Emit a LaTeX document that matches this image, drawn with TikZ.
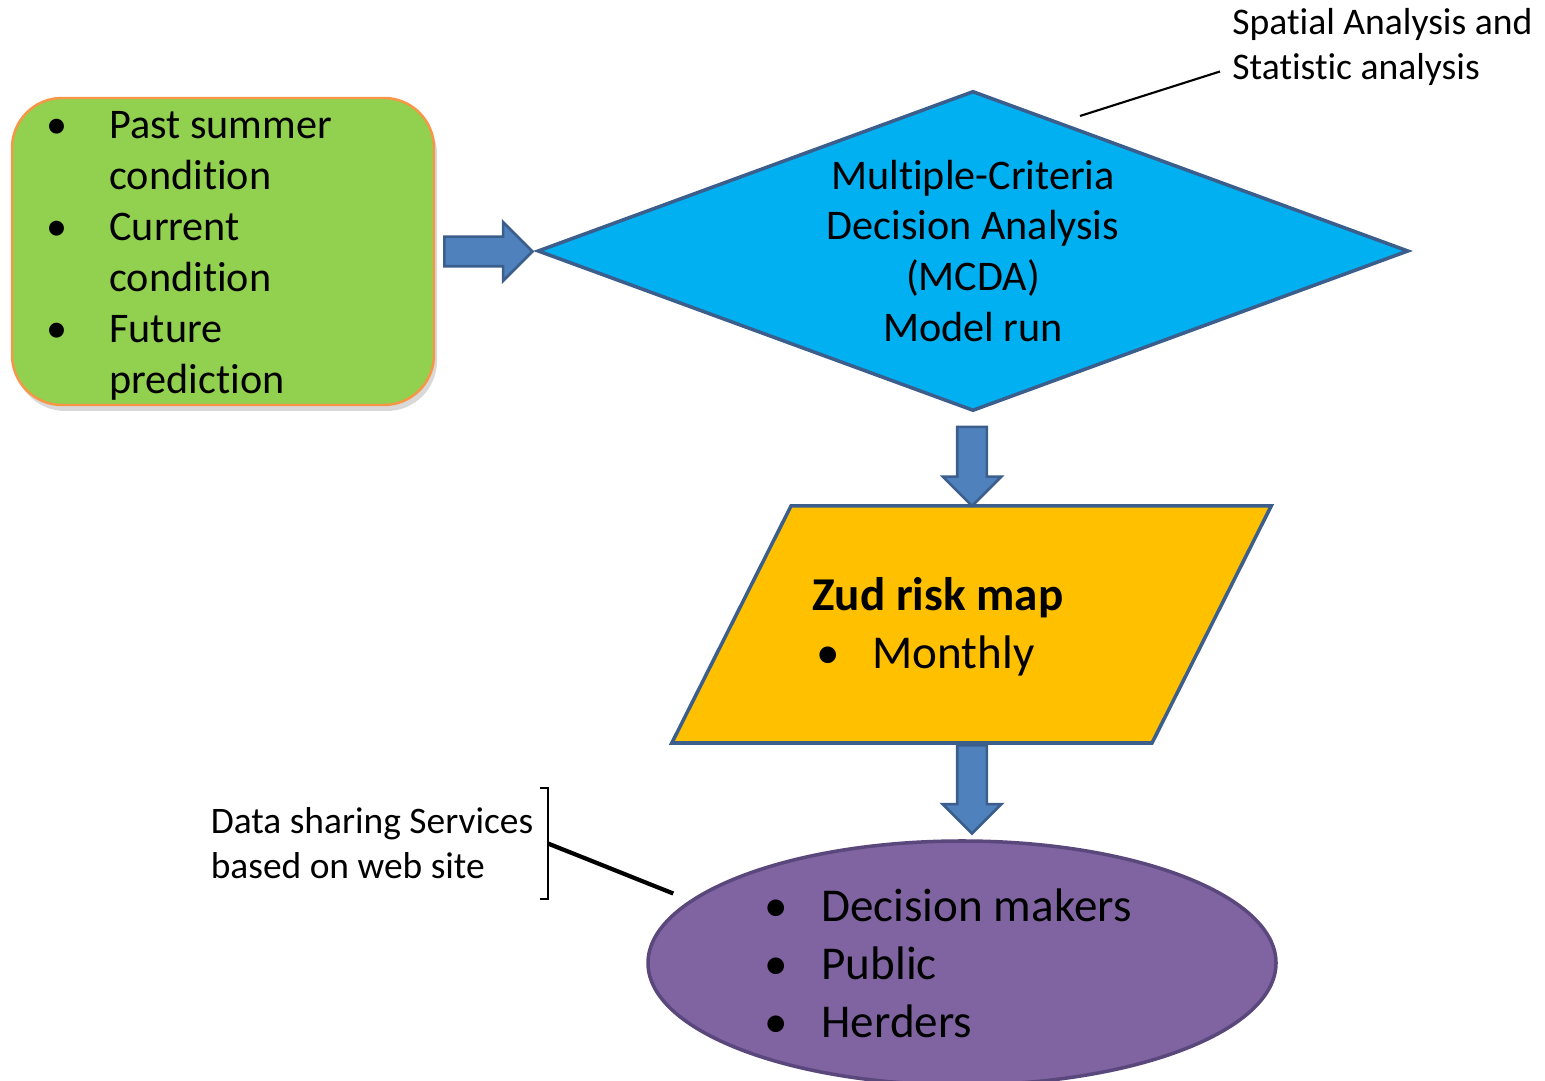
\documentclass[tikz,border=0pt]{standalone}
\usepackage{fontspec}
\setmainfont{Carlito}[Ligatures=NoCommon]
\usetikzlibrary{shapes.geometric,shapes.arrows,shadows}
\definecolor{leafgreen}{HTML}{92D050}
\definecolor{edgeorange}{HTML}{F79646}
\definecolor{skyblue}{HTML}{00B0F0}
\definecolor{arrowblue}{HTML}{4F81BD}
\definecolor{edgeblue}{HTML}{3B5E8C}
\definecolor{ambergold}{HTML}{FFC000}
\definecolor{plum}{HTML}{8064A2}
\definecolor{plumedge}{HTML}{5A477C}
\newcommand{\itm}[1][0.6cm]{\makebox[#1][l]{\textbullet}}
\tikzset{
  inputbox/.style={draw=edgeorange,fill=leafgreen,line width=0.7pt,rounded corners=0.5cm,
    minimum width=4.22cm,minimum height=3.07cm,
    drop shadow={opacity=0.3,shadow xshift=0.03cm,shadow yshift=-0.06cm}},
  modelbox/.style={diamond,aspect=2.72,draw=edgeblue,fill=skyblue,line width=1pt,inner sep=0pt,
    minimum width=8.71cm,minimum height=3.2cm,align=center,font=\fontsize{12}{14.5}\selectfont},
  mapbox/.style={trapezium,trapezium left angle=63.3,trapezium right angle=116.7,
    draw=edgeblue,fill=ambergold,line width=1pt,inner sep=0pt,
    text width=3.61cm,text height=2.37cm,text depth=0pt},
  userbox/.style={ellipse,draw=plumedge,fill=plum,line width=1pt,minimum width=6.28cm,minimum height=2.44cm},
  smalltext/.style={align=flush left,font=\fontsize{12}{14.5}\selectfont},
  bigtext/.style={align=flush left,font=\fontsize{13.4}{16.5}\selectfont},
  blockarrow/.style={single arrow,draw=edgeblue,fill=arrowblue,line width=0.75pt,inner sep=0.135cm,
    single arrow head extend=0.145cm},
  note/.style={align=left,font=\fontsize{10.7}{12.8}\selectfont},
  callout/.style={draw=black,line width=0.6pt}
}
\begin{document}
\begin{tikzpicture}
\useasboundingbox (0,0) rectangle (15.45,-10.81);
\node[inputbox] (inputs) at (2.23,-2.515) {};
\node[smalltext,anchor=west] (inputtext) at (0.34,-2.56)
  {\itm[0.63cm]Past summer\\\hspace{0.63cm}condition\\\itm[0.63cm]Current\\\hspace{0.63cm}condition\\\itm[0.63cm]Future\\\hspace{0.63cm}prediction};
\node[modelbox] (mcda) at (9.73,-2.51) {Multiple-Criteria\\Decision Analysis\\(MCDA)\\Model run};
\node[mapbox] (zudmap) at (9.715,-6.245) {};
\node[bigtext,anchor=west] (zudtext) at (8.0,-6.27) {\textbf{Zud risk map}\\\hspace{0.04cm}\itm[0.56cm]Monthly};
\node[userbox] (users) at (9.62,-9.63) {};
\node[bigtext,anchor=west] (usertext) at (7.52,-9.63)
  {\itm[0.57cm]Decision makers\\\itm[0.57cm]Public\\\itm[0.57cm]Herders};
% block arrows between the steps
\node[blockarrow,minimum height=0.88cm] (toMcda) at (4.81,-2.515) {};
\node[blockarrow,shape border rotate=270,minimum height=0.79cm] (toMap) at (9.72,-4.59) {};
\node[blockarrow,shape border rotate=270,minimum height=0.88cm] (toUsers) at (9.72,-7.82) {};
% side notes
\node[note,anchor=west] (spatial) at (12.2,-0.465) {Spatial Analysis and\\Statistic analysis};
\coordinate (spatialtip) at (10.8,-1.16);
\draw[callout] (spatialtip) -- ([yshift=-0.25cm]spatial.west);
\node[note,anchor=east,inner xsep=0.14cm,minimum height=1.09cm,font=\fontsize{10.65}{12.8}\selectfont] (sharing) at (5.48,-8.435)
  {Data sharing Services\\based on web site};
\draw[callout] ([xshift=-0.08cm]sharing.north east) -- (sharing.north east) -- (sharing.south east) -- ++(-0.08,0);
\draw[callout,line width=1.2pt,shorten >=0.18cm] (sharing.east) -- (users.167);
\end{tikzpicture}
\end{document}
